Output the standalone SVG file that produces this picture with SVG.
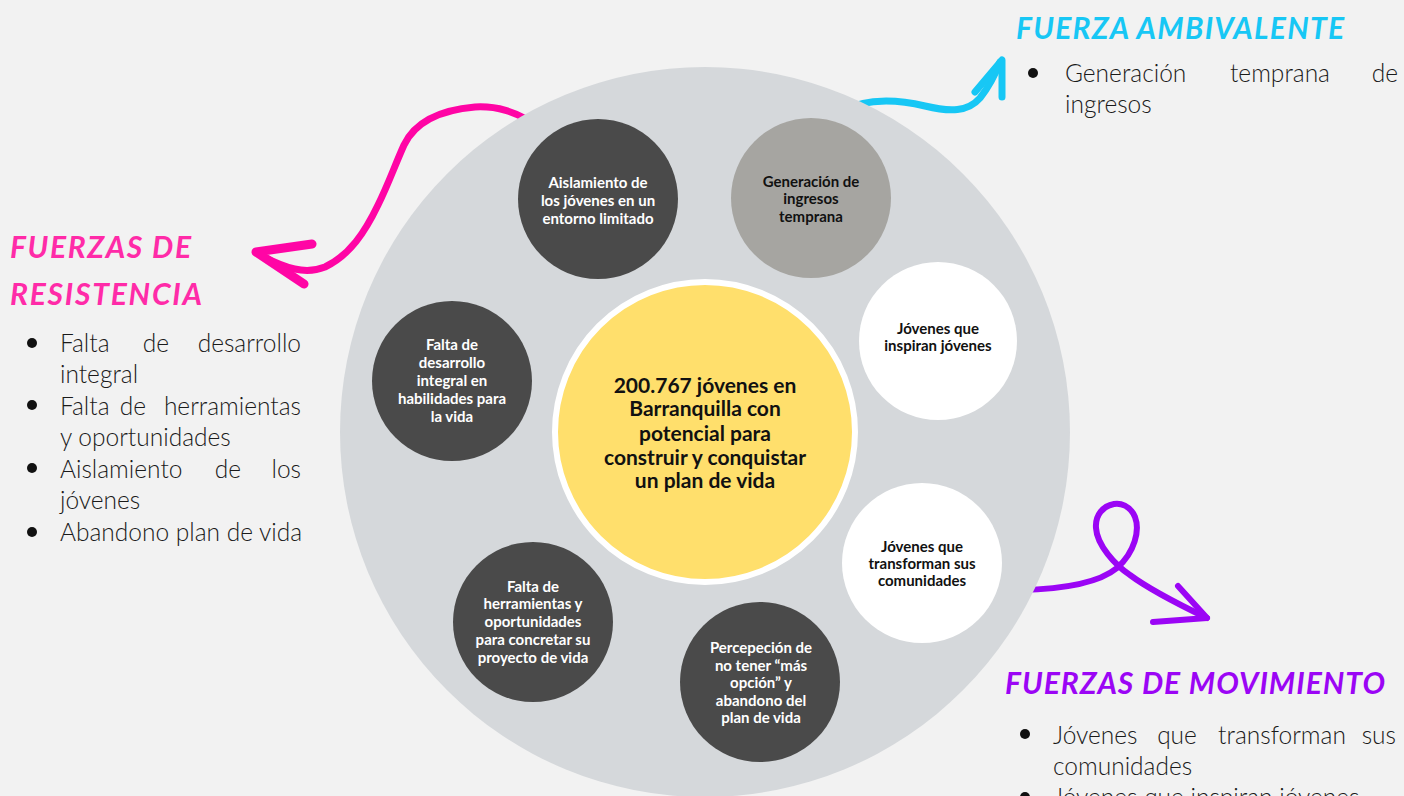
<svg xmlns="http://www.w3.org/2000/svg" width="1404" height="796" viewBox="0 0 1404 796">
<style>
.nd{font-family:Lato,"Noto Sans","DejaVu Sans",sans-serif;font-weight:700;font-size:15px;text-anchor:middle}
.w{fill:#ffffff}
.k{fill:#111111}
.ctr{font-family:Lato,"Noto Sans","DejaVu Sans",sans-serif;font-weight:700;font-size:21px;text-anchor:middle;fill:#111111}
.li{font-family:Lato,"Noto Sans","DejaVu Sans",sans-serif;font-weight:300;font-size:24.5px;fill:#1a1a1a}
.m{text-anchor:middle}
.e{text-anchor:end}
.ttl{font-family:Lato,"DejaVu Sans",sans-serif;font-weight:700;font-style:italic;font-size:30px}
.arr{fill:none;stroke-linecap:round;stroke-linejoin:round}
.dark{fill:#4a4a4a}
</style>
<rect width="1404" height="796" fill="#f2f2f2"/>
<g id="connectors">
<path class="arr" stroke="#ff05a5" stroke-width="7" d="M540,128 C515,110 495,106 475,107 C440,110 415,122 404,145 C395,165 388,185 378,205 C365,232 350,255 325,267 C305,275 285,268 262,256"/>
<polyline class="arr" stroke="#ff05a5" stroke-width="9" points="312,244 256,252 304,284"/>
<path class="arr" stroke="#17c7f5" stroke-width="7" d="M840,112 C865,98 895,99 925,106 C950,112 968,112 980,98 C988,88 995,75 1000,62"/>
<polyline class="arr" stroke="#17c7f5" stroke-width="7" points="975,92 1002,60 1002,97"/>
<path class="arr" stroke="#9b05f5" stroke-width="6" d="M1020,590 C1070,589 1100,582 1117,568 C1135,552 1140,530 1135,517 C1130,505 1120,503 1114,504 C1103,506 1095,515 1096,528 C1097,545 1115,565 1130,575 C1150,590 1180,605 1207,618"/>
<polyline class="arr" stroke="#9b05f5" stroke-width="6" points="1178,586 1207,618 1153,622"/>
</g>
<g id="ring"><circle cx="705" cy="432" r="365" fill="#d5d8db"/></g>
<g id="center">
<circle cx="705" cy="432" r="150" fill="#ffdf6c" stroke="#ffffff" stroke-width="6"/>
<text class="ctr"><tspan x="705" y="393">200.767 jóvenes en</tspan><tspan x="705" y="416">Barranquilla con</tspan><tspan x="705" y="441">potencial para</tspan><tspan x="705" y="465">construir y conquistar</tspan><tspan x="705" y="488">un plan de vida</tspan></text>
</g>
<g id="n-aislamiento">
<circle class="dark" cx="598" cy="199" r="80"/>
<text class="nd w"><tspan x="598" y="188">Aislamiento de</tspan><tspan x="598" y="206">los jóvenes en un</tspan><tspan x="598" y="224">entorno limitado</tspan></text>
</g>
<g id="n-generacion">
<circle cx="811" cy="198" r="80" fill="#a6a5a1"/>
<text class="nd k"><tspan x="811" y="187">Generación de</tspan><tspan x="811" y="204">ingresos</tspan><tspan x="811" y="222">temprana</tspan></text>
</g>
<g id="n-inspiran">
<circle cx="938" cy="341" r="79" fill="#ffffff"/>
<text class="nd k"><tspan x="938" y="334">Jóvenes que</tspan><tspan x="938" y="351">inspiran jóvenes</tspan></text>
</g>
<g id="n-transforman">
<circle cx="922" cy="563" r="80" fill="#ffffff"/>
<text class="nd k"><tspan x="922" y="552">Jóvenes que</tspan><tspan x="922" y="569">transforman sus</tspan><tspan x="922" y="586">comunidades</tspan></text>
</g>
<g id="n-percepcion">
<circle class="dark" cx="760" cy="682" r="80"/>
<text class="nd w"><tspan x="761" y="653">Percepeción de</tspan><tspan x="761" y="671">no tener “más</tspan><tspan x="761" y="688">opción” y</tspan><tspan x="761" y="706">abandono del</tspan><tspan x="761" y="723">plan de vida</tspan></text>
</g>
<g id="n-herramientas">
<circle class="dark" cx="533" cy="622" r="80"/>
<text class="nd w"><tspan x="533" y="592">Falta de</tspan><tspan x="533" y="609">herramientas y</tspan><tspan x="533" y="627">oportunidades</tspan><tspan x="533" y="645">para concretar su</tspan><tspan x="533" y="663">proyecto de vida</tspan></text>
</g>
<g id="n-desarrollo">
<circle class="dark" cx="452" cy="381" r="80"/>
<text class="nd w"><tspan x="452" y="350">Falta de</tspan><tspan x="452" y="368">desarrollo</tspan><tspan x="452" y="386">integral en</tspan><tspan x="452" y="404">habilidades para</tspan><tspan x="452" y="422">la vida</tspan></text>
</g>
<g id="resistencia">
<text class="ttl" fill="#ff2ba8" x="10" y="258" textLength="181" lengthAdjust="spacing">FUERZAS DE</text>
<text class="ttl" fill="#ff2ba8" x="10" y="305" textLength="192" lengthAdjust="spacing">RESISTENCIA</text>
<circle cx="32" cy="343" r="5" fill="#111"/>
<circle cx="32" cy="405" r="5" fill="#111"/>
<circle cx="32" cy="468" r="5" fill="#111"/>
<circle cx="32" cy="532" r="5" fill="#111"/>
<text class="li" x="60" y="352">Falta</text><text class="li m" x="156" y="352">de</text><text class="li e" x="301" y="352">desarrollo</text>
<text class="li" x="60" y="383">integral</text>
<text class="li" x="60" y="415">Falta</text><text class="li m" x="133" y="415">de</text><text class="li e" x="301" y="415">herramientas</text>
<text class="li" x="60" y="446">y oportunidades</text>
<text class="li" x="60" y="478">Aislamiento</text><text class="li m" x="228" y="478">de</text><text class="li e" x="301" y="478">los</text>
<text class="li" x="60" y="509">jóvenes</text>
<text class="li" x="60" y="541">Abandono plan de vida</text>
</g>
<g id="ambivalente">
<text class="ttl" fill="#17c7f5" x="1016" y="39" textLength="328" lengthAdjust="spacing">FUERZA AMBIVALENTE</text>
<circle cx="1033" cy="73" r="5" fill="#111"/>
<text class="li" x="1065" y="82">Generación</text><text class="li m" x="1280" y="82">temprana</text><text class="li e" x="1398" y="82">de</text>
<text class="li" x="1065" y="113">ingresos</text>
</g>
<g id="movimiento">
<text class="ttl" fill="#9b05f5" x="1005" y="694" textLength="380" lengthAdjust="spacing">FUERZAS DE MOVIMIENTO</text>
<circle cx="1025" cy="734" r="5" fill="#111"/>
<text class="li" x="1053" y="744">Jóvenes</text><text class="li m" x="1177" y="744">que</text><text class="li m" x="1282" y="744">transforman</text><text class="li e" x="1396" y="744">sus</text>
<text class="li" x="1053" y="775">comunidades</text>
<circle cx="1025" cy="797" r="5" fill="#111"/>
<text class="li" x="1053" y="806">Jóvenes que inspiran jóvenes</text>
</g>
</svg>
